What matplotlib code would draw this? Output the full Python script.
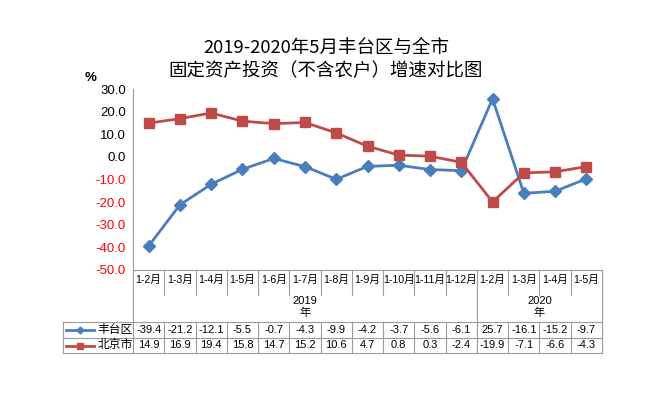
import matplotlib
matplotlib.use('Agg')
import matplotlib.pyplot as plt
from matplotlib.lines import Line2D

plt.rcParams['font.family'] = ['Liberation Sans', 'Noto Sans CJK SC']

months = ['1-2月', '1-3月', '1-4月', '1-5月', '1-6月', '1-7月', '1-8月', '1-9月',
          '1-10月', '1-11月', '1-12月', '1-2月', '1-3月', '1-4月', '1-5月']
years = ['2019\n年', '2020\n年']
year_sizes = [11, 4]
fengtai = [-39.4, -21.2, -12.1, -5.5, -0.7, -4.3, -9.9, -4.2, -3.7, -5.6, -6.1,
           25.7, -16.1, -15.2, -9.7]
beijing = [14.9, 16.9, 19.4, 15.8, 14.7, 15.2, 10.6, 4.7, 0.8, 0.3, -2.4,
           -19.9, -7.1, -6.6, -4.3]
yticks = [30, 20, 10, 0, -10, -20, -30, -40, -50]

blue = '#4A7EBB'
red = '#BE4B48'
grid = '#9A9A9A'

W, H = 671, 399
fig = plt.figure(figsize=(W / 100, H / 100), dpi=100)
left, right, top, bottom = 133, 602, 89, 270
ax = fig.add_axes([left / W, 1 - bottom / H, (right - left) / W, (bottom - top) / H])

n = len(months)
x = list(range(n))
ax.plot(x, fengtai, color=blue, lw=2, marker='D', ms=6, zorder=3)
ax.plot(x, beijing, color=red, lw=2, marker='s', ms=7.5, zorder=3)

ax.set_xlim(-0.5, n - 0.5)
ax.set_ylim(-50, 30)
ax.set_xticks([])
ax.set_yticks(yticks)
ax.set_yticklabels(['%.1f' % v for v in yticks], fontsize=9.5)
for lab, v in zip(ax.get_yticklabels(), yticks):
    lab.set_color('#FF0000' if v < 0 else 'black')
ax.tick_params(axis='y', length=0, pad=5)
for s in ['top', 'right']:
    ax.spines[s].set_visible(False)
ax.spines['left'].set_color(grid)
ax.spines['bottom'].set_color(grid)

ax.text(-0.09, 1.03, '%', transform=ax.transAxes, fontsize=9.5, fontweight='bold',
        ha='center', va='bottom')

# table below the plot
ph = bottom - top
def fy(p):
    return (bottom - p) / ph

tr = ax.get_xaxis_transform()
colw = (right - left) / n
x_tab_left = (63 - left) / colw - 0.5

def line(xs, ys):
    ax.add_line(Line2D(xs, [fy(v) for v in ys], transform=tr, color=grid,
                       lw=0.8, clip_on=False))

r_month = 295
r_s1, r_s2, r_end = 322, 338, 353
line([x_tab_left, n - 0.5], [r_s1, r_s1])
line([x_tab_left, n - 0.5], [r_s2, r_s2])
line([x_tab_left, n - 0.5], [r_end, r_end])
line([x_tab_left, x_tab_left], [r_s1, r_end])
line([-0.5, -0.5], [bottom, r_end])
line([n - 0.5, n - 0.5], [bottom, r_end])
bounds = [sum(year_sizes[:i + 1]) - 0.5 for i in range(len(year_sizes) - 1)]
for i in range(1, n):
    b = i - 0.5
    if b in bounds:
        line([b, b], [bottom, r_end])
    else:
        line([b, b], [bottom, r_month])
        line([b, b], [r_s1, r_end])

fs = 8
for i, m in enumerate(months):
    ax.text(i, fy(280), m, transform=tr, ha='center', va='center', fontsize=7.7)
    ax.text(i, fy(330), '%.1f' % fengtai[i], transform=tr, ha='center',
            va='center', fontsize=fs)
    ax.text(i, fy(345.5), '%.1f' % beijing[i], transform=tr, ha='center',
            va='center', fontsize=fs)

start = 0
for yl, sz in zip(years, year_sizes):
    ax.text(start + (sz - 1) / 2, fy(307), yl, transform=tr, ha='center',
            va='center', fontsize=fs, linespacing=1.1)
    start += sz

# legend keys inside the table
kx0 = (66 - left) / colw - 0.5
kx1 = (94 - left) / colw - 0.5
kxm = (kx0 + kx1) / 2
ax.add_line(Line2D([kx0, kx1], [fy(330)] * 2, transform=tr, color=blue, lw=2, clip_on=False))
ax.add_line(Line2D([kxm], [fy(330)], transform=tr, color=blue, marker='D', ms=3.5, clip_on=False))
ax.add_line(Line2D([kx0, kx1], [fy(345.5)] * 2, transform=tr, color=red, lw=2, clip_on=False))
ax.add_line(Line2D([kxm], [fy(345.5)], transform=tr, color=red, marker='s', ms=5, clip_on=False))
lx = (97.5 - left) / colw - 0.5
ax.text(lx, fy(330), '丰台区', transform=tr, ha='left', va='center', fontsize=8.5)
ax.text(lx, fy(345.5), '北京市', transform=tr, ha='left', va='center', fontsize=8.5)

fig.text(326 / W, 1 - 48 / H, '2019-2020年5月丰台区与全市', ha='center', va='center',
         fontsize=13.3, fontweight='medium', family=['Noto Sans CJK SC'])
fig.text(326 / W, 1 - 71 / H, '固定资产投资（不含农户）增速对比图', ha='center', va='center',
         fontsize=13.3, fontweight='medium', family=['Noto Sans CJK SC'])

fig.savefig('out.png', dpi=100)
